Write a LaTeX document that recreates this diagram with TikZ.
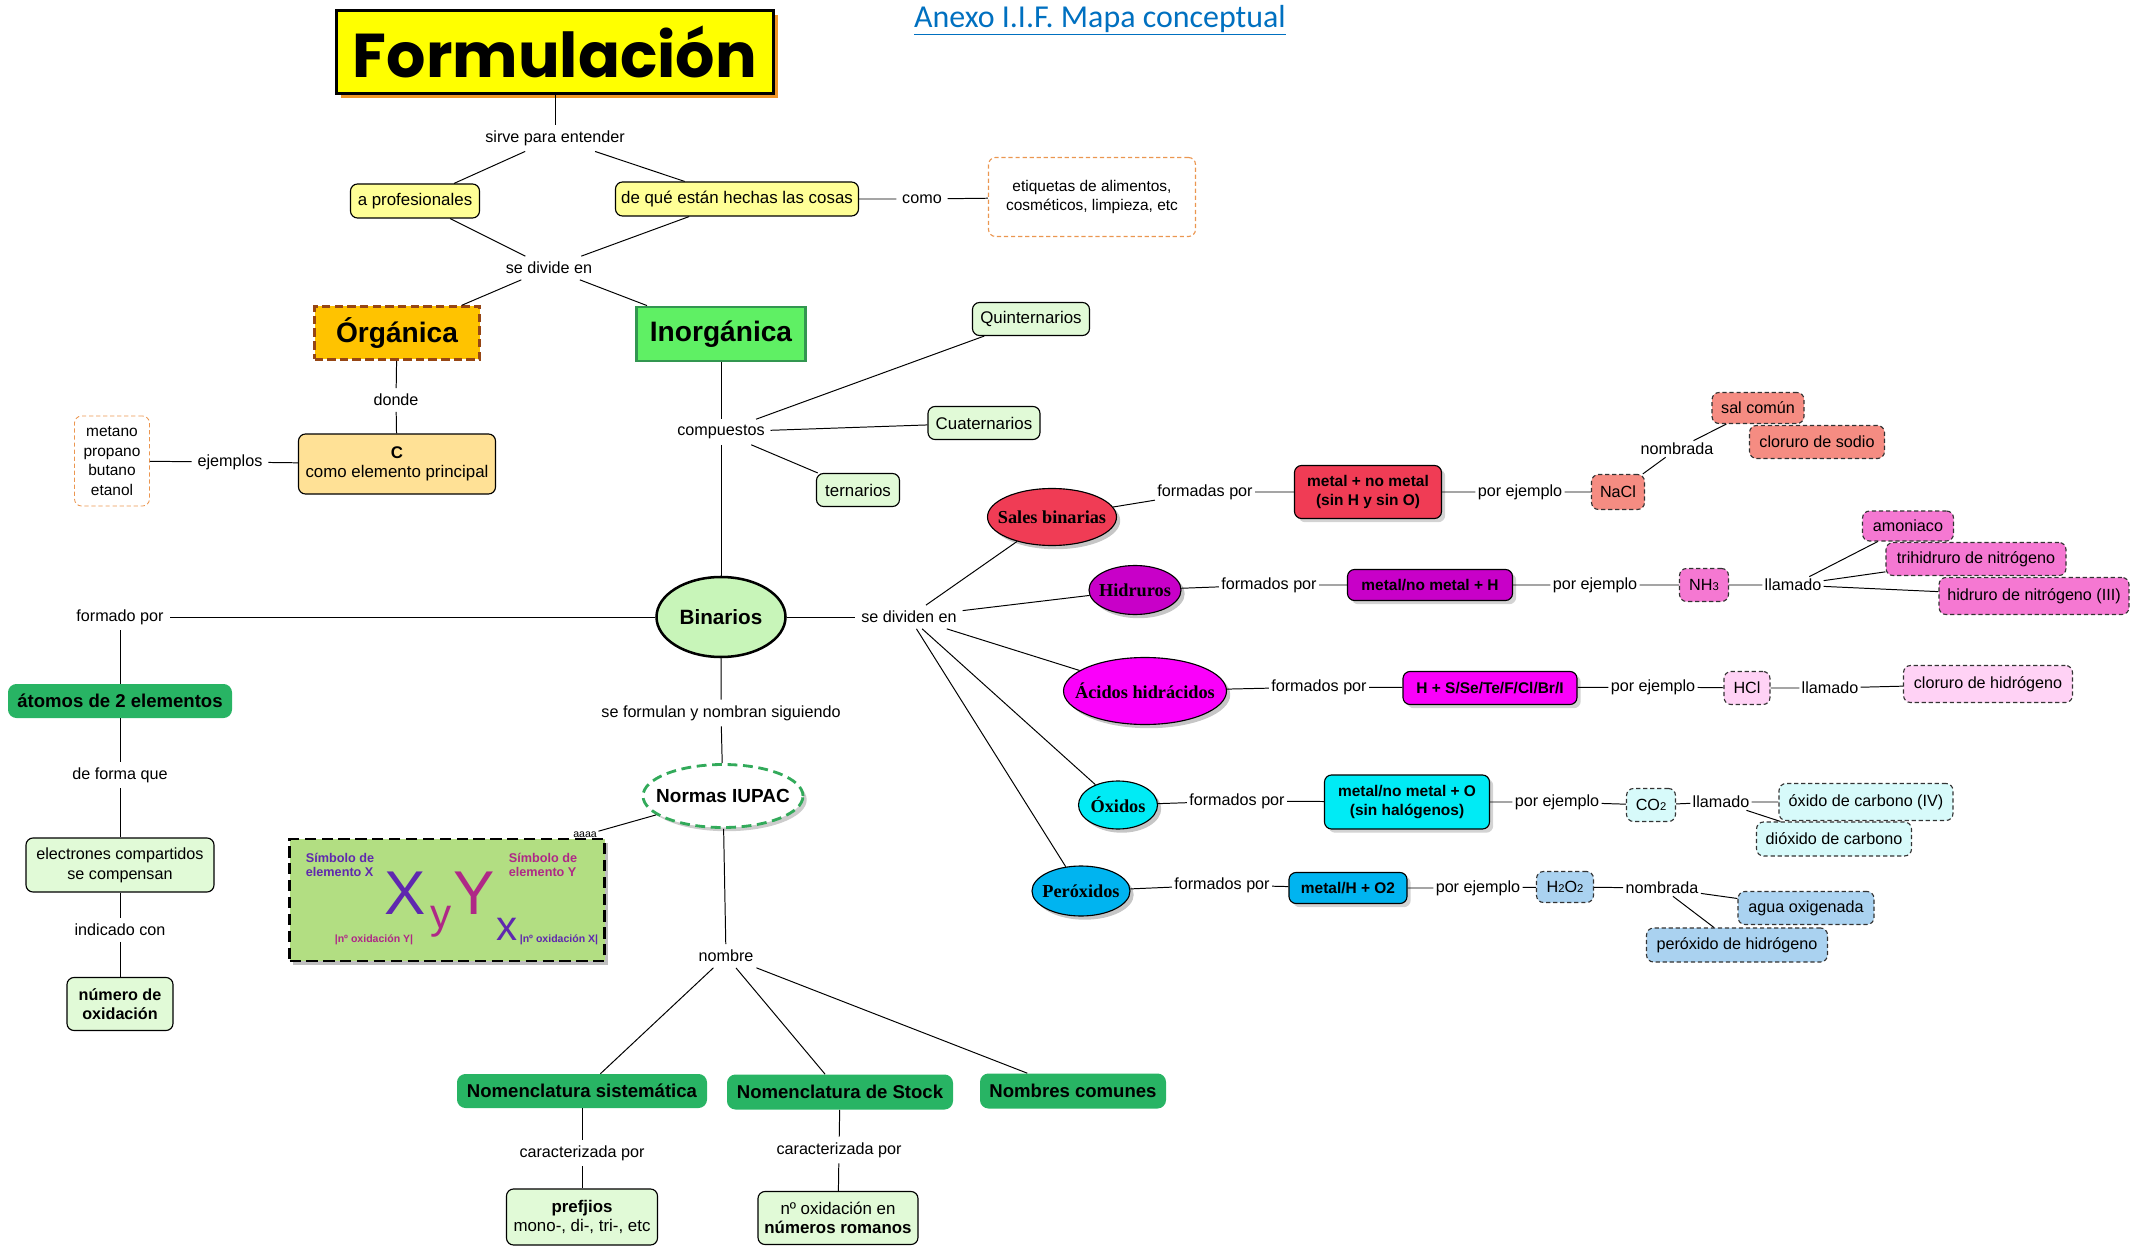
\documentclass[tikz,border=0pt]{standalone}
\usepackage{fontspec}
\setmainfont{Liberation Sans}
\newfontfamily\serifbold{Liberation Serif}
\newfontfamily\titlefont{Poppins}
\newfontfamily\annexfont{Carlito}
\usetikzlibrary{positioning,shapes.geometric,shadows}
\newdimen\pxu \pxu=0.025cm
\newcommand\ovaltext[1]{\makebox[0pt]{#1}}
\definecolor{titleyellow}{RGB}{255,255,0}
\definecolor{titleorange}{RGB}{240,150,40}
\definecolor{linkblue}{RGB}{0,112,192}
\definecolor{paleyellow}{RGB}{255,255,150}
\definecolor{dashorange}{RGB}{235,150,80}
\definecolor{orgorange}{RGB}{255,195,0}
\definecolor{orgbrown}{RGB}{150,70,20}
\definecolor{inorggreen}{RGB}{95,240,100}
\definecolor{inorgborder}{RGB}{50,150,80}
\definecolor{cfill}{RGB}{255,225,150}
\definecolor{palegreen}{RGB}{225,250,215}
\definecolor{binfill}{RGB}{200,245,185}
\definecolor{nomgreen}{RGB}{40,180,100}
\definecolor{formulagreen}{RGB}{178,222,130}
\definecolor{iupacgreen}{RGB}{50,170,90}
\definecolor{symbpurple}{RGB}{95,40,175}
\definecolor{symbmagenta}{RGB}{175,40,135}
\definecolor{salesred}{RGB}{240,60,85}
\definecolor{salmon}{RGB}{245,140,130}
\definecolor{hidpurple}{RGB}{200,0,200}
\definecolor{hidpink}{RGB}{245,120,210}
\definecolor{acidmagenta}{RGB}{250,0,250}
\definecolor{acidpink}{RGB}{255,210,245}
\definecolor{oxcyan}{RGB}{0,235,245}
\definecolor{oxpale}{RGB}{215,250,250}
\definecolor{perblue}{RGB}{0,180,240}
\definecolor{perpale}{RGB}{170,210,240}
\tikzset{
  conn/.style={line width=0.7pt, draw=black},
  lbl/.style={font=\fontsize{11.5}{13}\selectfont, inner sep=4pt},
  rlbl/.style={font=\fontsize{11.5}{13}\selectfont, inner sep=1.5pt},
  cbox/.style={draw, rounded corners=5pt, align=center, line width=0.8pt,
    font=\fontsize{12}{14}\selectfont, inner sep=2pt},
  dbox/.style={cbox, draw=black!80, dash pattern=on 3pt off 2pt, font=\fontsize{11.5}{13}\selectfont},
  rowbox/.style={cbox, font=\bfseries\fontsize{11}{13}\selectfont, drop shadow={opacity=0.35}},
  gbox/.style={rounded corners=6pt, fill=nomgreen, inner sep=2pt,
    font=\bfseries\fontsize{13.2}{15}\selectfont},
  oval/.style={ellipse, draw, line width=0.8pt, inner sep=0pt,
    font=\serifbold\bfseries\fontsize{13}{15}\selectfont, drop shadow={opacity=0.45}},
  symb/.style={font=\bfseries\fontsize{9}{10}\selectfont, align=left, inner sep=0pt},
  big/.style={font=\fontsize{44}{44}\selectfont, inner sep=0pt},
  small/.style={font=\fontsize{30}{30}\selectfont, inner sep=0pt}
}
\begin{document}
\begin{tikzpicture}[x=0.025cm, y=-0.025cm]
  \useasboundingbox (0,0) rectangle (2132,1247);
  % title and upper branch
  \node[draw, line width=1.6pt, fill=titleyellow, minimum width=437\pxu, minimum height=83\pxu,
    font=\titlefont\bfseries\fontsize{44}{48}\selectfont,
    drop shadow={fill=titleorange, shadow xshift=3pt, shadow yshift=-3pt, opacity=1}] (titulo) at (555,52) {Formulación};
  \node[font=\annexfont\fontsize{22.7}{26}\selectfont, text=linkblue] (anexo) at (1100,20) {\underline{Anexo I.I.F. Mapa conceptual}};
  \node[lbl] (sirve) at (555,138) {sirve para entender};
  \node[cbox, fill=paleyellow, minimum width=129\pxu, minimum height=34\pxu] (profes) at (415,201) {a profesionales};
  \node[cbox, fill=paleyellow, minimum width=243\pxu, minimum height=34\pxu] (cosas) at (737,199) {de qué están hechas las cosas};
  \node[lbl] (como) at (922,199) {como};
  \node[cbox, draw=dashorange, dash pattern=on 3pt off 2pt, minimum width=207\pxu, minimum height=79\pxu,
    font=\fontsize{11}{14}\selectfont] (etiquetas) at (1092,197) {etiquetas de alimentos,\\cosméticos, limpieza, etc};
  \node[lbl] (divide) at (549,268) {se divide en};
  \node[fill=orgorange, draw=orgbrown, line width=1.8pt, dash pattern=on 6pt off 3pt,
    minimum width=165\pxu, minimum height=53\pxu, font=\bfseries\fontsize{20}{22}\selectfont] (organica) at (397,333) {Órgánica};
  \node[fill=inorggreen, draw=inorgborder, line width=2pt, minimum width=169\pxu, minimum height=54\pxu,
    font=\bfseries\fontsize{20}{22}\selectfont] (inorganica) at (721,334) {Inorgánica};
  \node[lbl] (donde) at (396,400) {donde};
  \node[cbox, fill=cfill, minimum width=197\pxu, minimum height=60\pxu] (carbono) at (397,464) {\textbf{C}\\como elemento principal};
  \node[lbl] (ejemplos) at (230,462) {ejemplos};
  \node[cbox, draw=dashorange, line width=0.6pt, dash pattern=on 3pt off 2pt, minimum width=75\pxu, minimum height=90\pxu,
    font=\fontsize{11}{14}\selectfont] (metano) at (112,461) {metano\\propano\\butano\\etanol};
  % inorganic compounds
  \node[lbl] (compuestos) at (721,432) {compuestos};
  \node[cbox, fill=palegreen, minimum width=117\pxu, minimum height=33\pxu] (quint) at (1031,319) {Quinternarios};
  \node[cbox, fill=palegreen, minimum width=112\pxu, minimum height=33\pxu] (cuat) at (984,423) {Cuaternarios};
  \node[cbox, fill=palegreen, minimum width=83\pxu, minimum height=33\pxu] (tern) at (858,490) {ternarios};
  \node[ellipse, draw, line width=1.8pt, fill=binfill, inner sep=0pt, minimum width=129\pxu, minimum height=80\pxu,
    font=\bfseries\fontsize{14.7}{16}\selectfont] (binarios) at (721,617) {\ovaltext{Binarios}};
  % left column
  \node[lbl] (formado) at (120,617) {formado por};
  \node[gbox, minimum width=224\pxu, minimum height=34\pxu] (atomos) at (120,701) {átomos de 2 elementos};
  \node[lbl] (deforma) at (120,775) {de forma que};
  \node[cbox, fill=palegreen, minimum width=188\pxu, minimum height=54\pxu, font=\fontsize{11.5}{14}\selectfont] (electrones) at (120,865) {electrones compartidos\\se compensan};
  \node[lbl] (indicado) at (120,930) {indicado con};
  \node[cbox, fill=palegreen, minimum width=106\pxu, minimum height=53\pxu, font=\bfseries\fontsize{11.5}{14}\selectfont] (numox) at (120,1004) {número de\\oxidación};
  % IUPAC and names
  \node[lbl] (formulan) at (721,713) {se formulan y nombran siguiendo};
  \node[ellipse, draw=iupacgreen, fill=white, line width=2pt, dash pattern=on 7pt off 4pt, inner sep=0pt,
    minimum width=160\pxu, minimum height=63\pxu, font=\bfseries\fontsize{13.5}{15}\selectfont,
    drop shadow={opacity=0.4}] (iupac) at (723,796) {\ovaltext{Normas IUPAC}};
  \node[draw, line width=2pt, dash pattern=on 8pt off 4pt, fill=formulagreen, minimum width=315\pxu, minimum height=122\pxu,
    drop shadow={opacity=0.5}] (formula) at (447,900) {};
  \node[symb, text=symbpurple] (simbx) at (340,865) {Símbolo de\\elemento X};
  \node[symb, text=symbmagenta] (simby) at (543,865) {Símbolo de\\elemento Y};
  \node[big, text=symbpurple] (letrax) at (405,893) {X};
  \node[small, text=symbmagenta] (suby) at (441,922) {y};
  \node[big, text=symbmagenta] (letray) at (474,893) {Y};
  \node[small, text=symbpurple] (subx) at (507,929) {x};
  \node[symb, text=symbmagenta, font=\bfseries\fontsize{7.5}{8}\selectfont] (oxy) at (374,940) {|nº oxidación Y|};
  \node[symb, text=symbpurple, font=\bfseries\fontsize{7.5}{8}\selectfont] (oxx) at (559,940) {|nº oxidación X|};
  \node[font=\fontsize{7.5}{8}\selectfont, inner sep=1pt] (aaaa) at (585,835) {aaaa};
  \node[lbl] (nombre) at (726,956) {nombre};
  \node[gbox, minimum width=250\pxu, minimum height=34\pxu] (sistem) at (582,1091) {Nomenclatura sistemática};
  \node[gbox, minimum width=226\pxu, minimum height=35\pxu] (stock) at (840,1092) {Nomenclatura de Stock};
  \node[gbox, minimum width=186\pxu, minimum height=35\pxu] (comunes) at (1073,1091) {Nombres comunes};
  \node[lbl] (caract1) at (582,1153) {caracterizada por};
  \node[lbl] (caract2) at (839,1150) {caracterizada por};
  \node[cbox, fill=palegreen, minimum width=151\pxu, minimum height=56\pxu] (prefijos) at (582,1217) {\textbf{prefjios}\\mono-, di-, tri-, etc};
  \node[cbox, fill=palegreen, minimum width=160\pxu, minimum height=53\pxu] (romanos) at (838,1218) {nº oxidación en\\\textbf{números romanos}};
  % binary families
  \node[lbl] (dividen) at (909,617) {se dividen en};
  \node[oval, fill=salesred, minimum width=129\pxu, minimum height=57\pxu] (sales) at (1052,517) {\ovaltext{Sales binarias}};
  \node[rlbl] (formadas) at (1205,492) {formadas por};
  \node[rowbox, fill=salesred, minimum width=147\pxu, minimum height=53\pxu] (metalnm) at (1368,492) {metal + no metal\\(sin H y sin O)};
  \node[rlbl] (ejsales) at (1520,492) {por ejemplo};
  \node[dbox, fill=salmon, minimum width=53\pxu, minimum height=35\pxu] (nacl) at (1618,492) {NaCl};
  \node[rlbl] (nombsal) at (1677,449) {nombrada};
  \node[dbox, fill=salmon, minimum width=92\pxu, minimum height=31\pxu] (salcomun) at (1758,408) {sal común};
  \node[dbox, fill=salmon, minimum width=135\pxu, minimum height=33\pxu] (clorsodio) at (1817,442) {cloruro de sodio};
  \node[oval, fill=hidpurple, minimum width=92\pxu, minimum height=49\pxu] (hidruros) at (1135,590) {\ovaltext{Hidruros}};
  \node[rlbl] (formhid) at (1269,585) {formados por};
  \node[rowbox, fill=hidpurple, minimum width=165\pxu, minimum height=31\pxu] (metalh) at (1430,585) {metal/no metal + H};
  \node[rlbl] (ejhid) at (1595,585) {por ejemplo};
  \node[dbox, fill=hidpink, minimum width=49\pxu, minimum height=33\pxu] (nh3) at (1704,585) {NH{\footnotesize 3}};
  \node[rlbl] (llamhid) at (1793,585) {llamado};
  \node[dbox, fill=hidpink, minimum width=91\pxu, minimum height=30\pxu] (amoniaco) at (1908,526) {amoniaco};
  \node[dbox, fill=hidpink, minimum width=180\pxu, minimum height=33\pxu] (trihid) at (1976,559) {trihidruro de nitrógeno};
  \node[dbox, fill=hidpink, minimum width=190\pxu, minimum height=37\pxu] (hidtres) at (2034,596) {hidruro de nitrógeno (III)};
  \node[oval, fill=acidmagenta, minimum width=163\pxu, minimum height=67\pxu] (acidos) at (1145,691) {\ovaltext{Ácidos hidrácidos}};
  \node[rlbl] (formac) at (1319,687) {formados por};
  \node[rowbox, fill=acidmagenta, minimum width=174\pxu, minimum height=33\pxu] (hsse) at (1490,688) {H + S/Se/Te/F/Cl/Br/I};
  \node[rlbl] (ejac) at (1653,687) {por ejemplo};
  \node[dbox, fill=acidpink, minimum width=46\pxu, minimum height=33\pxu] (hcl) at (1747,688) {HCl};
  \node[rlbl] (llamac) at (1830,688) {llamado};
  \node[dbox, fill=acidpink, minimum width=169\pxu, minimum height=37\pxu] (clorhid) at (1988,684) {cloruro de hidrógeno};
  \node[oval, fill=oxcyan, minimum width=79\pxu, minimum height=48\pxu] (oxidos) at (1118,805) {\ovaltext{Óxidos}};
  \node[rlbl] (formox) at (1237,801) {formados por};
  \node[rowbox, fill=oxcyan, minimum width=165\pxu, minimum height=54\pxu] (metalo) at (1407,802) {metal/no metal + O\\(sin halógenos)};
  \node[rlbl] (ejox) at (1557,802) {por ejemplo};
  \node[dbox, fill=oxpale, minimum width=49\pxu, minimum height=33\pxu] (co2) at (1651,805) {CO{\footnotesize 2}};
  \node[rlbl] (llamox) at (1721,802) {llamado};
  \node[dbox, fill=oxpale, minimum width=174\pxu, minimum height=37\pxu] (oxcarb) at (1866,802) {óxido de carbono (IV)};
  \node[dbox, fill=oxpale, minimum width=155\pxu, minimum height=34\pxu] (dioxcarb) at (1834,839) {dióxido de carbono};
  \node[oval, fill=perblue, minimum width=98\pxu, minimum height=50\pxu] (peroxidos) at (1081,891) {\ovaltext{Peróxidos}};
  \node[rlbl] (formper) at (1222,885) {formados por};
  \node[rowbox, fill=perblue, minimum width=118\pxu, minimum height=31\pxu] (metalho) at (1348,888) {metal/H + O2};
  \node[rlbl] (ejper) at (1478,888) {por ejemplo};
  \node[dbox, fill=perpale, minimum width=57\pxu, minimum height=31\pxu] (h2o2) at (1565,887) {H{\footnotesize 2}O{\footnotesize 2}};
  \node[rlbl] (nombper) at (1662,888) {nombrada};
  \node[dbox, fill=perpale, minimum width=136\pxu, minimum height=33\pxu] (agua) at (1806,908) {agua oxigenada};
  \node[dbox, fill=perpale, minimum width=181\pxu, minimum height=34\pxu] (perhid) at (1737,945) {peróxido de hidrógeno};
  % connectors
  \draw[conn] (titulo) -- (sirve);
  \draw[conn] (sirve) -- (profes);
  \draw[conn] (sirve) -- (cosas);
  \draw[conn] (profes) -- (divide);
  \draw[conn] (cosas) -- (divide);
  \draw[conn] (cosas) -- (como) -- (etiquetas);
  \draw[conn] (divide) -- (organica);
  \draw[conn] (divide) -- (inorganica);
  \draw[conn] (organica) -- (donde) -- (carbono);
  \draw[conn] (carbono) -- (ejemplos) -- (metano);
  \draw[conn] (inorganica) -- (compuestos);
  \foreach \t in {quint,cuat,tern,binarios}
    \draw[conn] (compuestos) -- (\t);
  \draw[conn] (binarios) -- (formado);
  \draw[conn] (formado) -- (atomos) -- (deforma) -- (electrones) -- (indicado) -- (numox);
  \draw[conn] (binarios) -- (dividen);
  \foreach \t in {sales,hidruros,acidos,oxidos,peroxidos}
    \draw[conn] (dividen) -- (\t);
  \draw[conn] (binarios) -- (formulan) -- (iupac) -- (nombre);
  \draw[conn] (iupac) -- (aaaa);
  \foreach \t in {sistem,stock,comunes}
    \draw[conn] (nombre) -- (\t);
  \draw[conn] (sistem) -- (caract1) -- (prefijos);
  \draw[conn] (stock) -- (caract2) -- (romanos);
  \draw[conn] (sales) -- (formadas) -- (metalnm) -- (ejsales) -- (nacl) -- (nombsal) -- (salcomun);
  \draw[conn] (hidruros) -- (formhid) -- (metalh) -- (ejhid) -- (nh3) -- (llamhid);
  \foreach \t in {amoniaco,trihid,hidtres}
    \draw[conn] (llamhid) -- (\t);
  \draw[conn] (acidos) -- (formac) -- (hsse) -- (ejac) -- (hcl) -- (llamac) -- (clorhid);
  \draw[conn] (oxidos) -- (formox) -- (metalo) -- (ejox) -- (co2) -- (llamox) -- (oxcarb);
  \draw[conn] (llamox) -- (dioxcarb);
  \draw[conn] (peroxidos) -- (formper) -- (metalho) -- (ejper) -- (h2o2) -- (nombper) -- (agua);
  \draw[conn] (nombper) -- (perhid);
\end{tikzpicture}
\end{document}
